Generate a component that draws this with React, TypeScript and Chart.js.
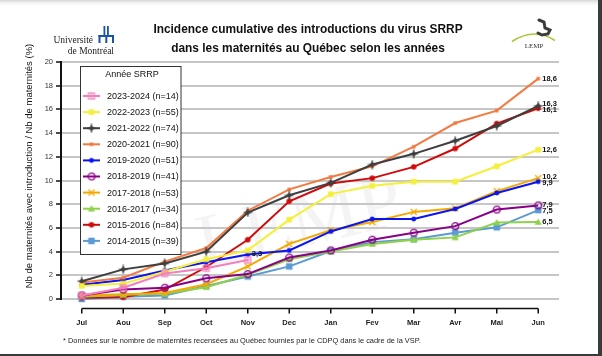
import React, { useEffect, useRef } from "react";
import { Chart, registerables } from "chart.js";

Chart.register(...registerables);

// ---------- data ----------
const months = ["Jul", "Aou", "Sep", "Oct", "Nov", "Dec", "Jan", "Fev", "Mar", "Avr", "Mai", "Jun"];

const seriesNames = [
  "2023-2024 (n=14)",
  "2022-2023 (n=55)",
  "2021-2022 (n=74)",
  "2020-2021 (n=90)",
  "2019-2020 (n=51)",
  "2018-2019 (n=41)",
  "2017-2018 (n=53)",
  "2016-2017 (n=34)",
  "2015-2016 (n=84)",
  "2014-2015 (n=39)",
];

const s2023_2024 = [0.3, 0.95, 2.15, 2.6, 3.3];
const s2022_2023 = [1.1, 1.3, 2.3, 3.35, 4.1, 6.7, 8.85, 9.55, 9.9, 9.9, 11.2, 12.6];
const s2021_2022 = [1.5, 2.5, 3.0, 4.0, 7.3, 8.75, 9.8, 11.35, 12.25, 13.35, 14.6, 16.3];
const s2020_2021 = [1.4, 1.8, 3.15, 4.3, 7.45, 9.25, 10.3, 11.2, 12.85, 14.85, 15.9, 18.6];
const s2019_2020 = [1.2, 1.6, 2.4, 3.1, 3.75, 4.1, 5.7, 6.75, 6.75, 7.6, 8.95, 9.9];
const s2018_2019 = [0.3, 0.8, 0.95, 1.75, 2.1, 3.5, 4.1, 5.0, 5.6, 6.15, 7.55, 7.9];
const s2017_2018 = [0.3, 0.4, 0.5, 1.25, 2.75, 4.65, 5.8, 6.5, 7.35, 7.65, 9.1, 10.2];
const s2016_2017 = [0.2, 0.35, 0.45, 1.0, 2.05, 3.35, 4.0, 4.65, 5.0, 5.2, 6.45, 6.5];
const s2015_2016 = [0.1, 0.15, 0.8, 2.7, 5.0, 8.25, 9.75, 10.2, 11.15, 12.7, 14.8, 16.1];
const s2014_2015 = [0.0, 0.2, 0.3, 1.1, 1.9, 2.75, 4.05, 4.8, 5.05, 5.6, 6.05, 7.5];

const seriesValues = [
  s2023_2024, s2022_2023, s2021_2022, s2020_2021, s2019_2020,
  s2018_2019, s2017_2018, s2016_2017, s2015_2016, s2014_2015,
];

const yMin = 0;
const yMax = 20;
const yStep = 2;

const titleLines = [
  "Incidence cumulative des introductions du virus SRRP",
  "dans les maternités au Québec selon les années",
];
const yTitle = "Nb de maternités avec introduction / Nb de maternités (%)";
const legendTitle = "Année SRRP";
const footnote = "* Données sur le nombre de maternités recensées au Québec fournies par le CDPQ dans le cadre de la VSP.";

// ---------- styles ----------
const seriesColors = [
  "#f57fbd", "#f4f03a", "#3f3f3f", "#f37a40", "#0a14f0",
  "#880088", "#f2a900", "#8fd14a", "#d00a0a", "#5b9bd5",
];
const seriesMarkers = [
  "rectCross", "square", "diamondCross", "smallSquare", "dot",
  "ring", "x", "triangle", "circle", "bigSquare",
];

const SANS = "'Liberation Sans', Arial, Helvetica, sans-serif";
const SERIF = "'Liberation Serif', 'Times New Roman', 'DejaVu Serif', serif";

function makeMarker(kind: string, color: string): HTMLCanvasElement {
  const size = 10;
  const c = document.createElement("canvas");
  c.width = size;
  c.height = size;
  const g = c.getContext("2d")!;
  const m = size / 2;
  g.fillStyle = color;
  g.strokeStyle = color;
  g.lineWidth = 1.2;
  switch (kind) {
    case "rectCross":
      g.strokeRect(m - 3, m - 3, 6, 6);
      g.beginPath();
      g.moveTo(m - 3, m);
      g.lineTo(m + 3, m);
      g.moveTo(m, m - 3);
      g.lineTo(m, m + 3);
      g.stroke();
      break;
    case "square":
      g.fillRect(m - 2.75, m - 2.75, 5.5, 5.5);
      break;
    case "diamondCross":
      g.beginPath();
      g.moveTo(m, m - 3);
      g.lineTo(m + 3, m);
      g.lineTo(m, m + 3);
      g.lineTo(m - 3, m);
      g.closePath();
      g.fill();
      g.beginPath();
      g.moveTo(m - 4.5, m);
      g.lineTo(m + 4.5, m);
      g.moveTo(m, m - 4.5);
      g.lineTo(m, m + 4.5);
      g.stroke();
      break;
    case "smallSquare":
      g.fillRect(m - 1.75, m - 1.75, 3.5, 3.5);
      break;
    case "dot":
      g.beginPath();
      g.arc(m, m, 2.4, 0, Math.PI * 2);
      g.fill();
      break;
    case "ring":
      g.lineWidth = 1.3;
      g.beginPath();
      g.arc(m, m, 3.4, 0, Math.PI * 2);
      g.stroke();
      break;
    case "x":
      g.lineWidth = 1.4;
      g.beginPath();
      g.moveTo(m - 3, m - 3);
      g.lineTo(m + 3, m + 3);
      g.moveTo(m + 3, m - 3);
      g.lineTo(m - 3, m + 3);
      g.stroke();
      break;
    case "triangle":
      g.beginPath();
      g.moveTo(m, m - 3.5);
      g.lineTo(m + 3.6, m + 2.8);
      g.lineTo(m - 3.6, m + 2.8);
      g.closePath();
      g.fill();
      break;
    case "circle":
      g.beginPath();
      g.arc(m, m, 2.8, 0, Math.PI * 2);
      g.fill();
      break;
    case "bigSquare":
    default:
      g.fillRect(m - 3.25, m - 3.25, 6.5, 6.5);
      break;
  }
  return c;
}

function fmt(v: number): string {
  return v.toFixed(1).replace(".", ",");
}

export default function App() {
  const ref = useRef<HTMLCanvasElement | null>(null);

  useEffect(() => {
    const canvas = ref.current;
    if (!canvas) return;
    const markers = seriesMarkers.map((k, i) => makeMarker(k, seriesColors[i]));

    const decor = {
      id: "decor",
      beforeDraw(chart: any) {
        const ctx = chart.ctx as CanvasRenderingContext2D;
        // faint watermark
        ctx.save();
        ctx.translate(300, 226);
        ctx.rotate(-0.22);
        ctx.font = `78px ${SERIF}`;
        ctx.fillStyle = "rgba(0,0,0,0.045)";
        ctx.textAlign = "center";
        ctx.textBaseline = "middle";
        ctx.fillText("LEMP", 0, 0);
        ctx.restore();
      },
      afterDraw(chart: any) {
        const ctx = chart.ctx as CanvasRenderingContext2D;
        const area = chart.chartArea;
        const xs = chart.scales.x;

        // ---- title ----
        ctx.save();
        ctx.fillStyle = "#111";
        ctx.font = `bold 11.9px ${SANS}`;
        ctx.textAlign = "center";
        ctx.textBaseline = "middle";
        ctx.fillText(titleLines[0], 308, 30);
        ctx.fillText(titleLines[1], 308, 49);
        ctx.restore();

        // ---- Université de Montréal logo ----
        ctx.save();
        ctx.fillStyle = "#222";
        ctx.font = `9.5px ${SERIF}`;
        ctx.textAlign = "right";
        ctx.textBaseline = "alphabetic";
        ctx.fillText("Université", 93, 43);
        ctx.fillText("de Montréal", 114, 54);
        ctx.fillStyle = "#1b52a4";
        ctx.fillRect(103.5, 26, 1.8, 10);
        ctx.fillRect(107, 26, 1.8, 10);
        ctx.fillRect(98.5, 35, 15.5, 2);
        ctx.fillRect(98.5, 35, 2, 8);
        ctx.fillRect(105.3, 35, 2, 8);
        ctx.fillRect(112, 35, 2, 8);
        ctx.restore();

        // ---- LEMP logo ----
        ctx.save();
        ctx.strokeStyle = "#a8c83a";
        ctx.lineWidth = 1.6;
        ctx.beginPath();
        ctx.moveTo(512, 41.5);
        ctx.quadraticCurveTo(534, 27, 555, 40.5);
        ctx.stroke();
        ctx.strokeStyle = "#3c3c3c";
        ctx.lineWidth = 3;
        ctx.lineCap = "round";
        ctx.beginPath();
        ctx.moveTo(539, 20);
        ctx.lineTo(544, 22);
        ctx.lineTo(545, 28);
        ctx.lineTo(550, 30);
        ctx.lineTo(548, 34);
        ctx.lineTo(542, 35);
        ctx.lineTo(538, 33);
        ctx.stroke();
        ctx.fillStyle = "#333";
        ctx.font = `7px ${SERIF}`;
        ctx.textAlign = "center";
        ctx.textBaseline = "alphabetic";
        ctx.fillText("LEMP", 534, 47.5);
        ctx.restore();

        // ---- y title ----
        ctx.save();
        ctx.translate(29, 166);
        ctx.rotate(-Math.PI / 2);
        ctx.fillStyle = "#111";
        ctx.font = `9.5px ${SANS}`;
        ctx.textAlign = "center";
        ctx.textBaseline = "middle";
        ctx.fillText(yTitle, 0, 0);
        ctx.restore();

        // ---- detached x axis line with ticks ----
        ctx.save();
        const axY = area.bottom + 9.5;
        const x0 = xs.getPixelForValue(0);
        const x1 = xs.getPixelForValue(months.length - 1);
        ctx.strokeStyle = "#111";
        ctx.lineWidth = 1.5;
        ctx.beginPath();
        ctx.moveTo(x0, axY);
        ctx.lineTo(x1, axY);
        for (let i = 0; i < months.length; i++) {
          const px = xs.getPixelForValue(i);
          ctx.moveTo(px, axY);
          ctx.lineTo(px, axY + 5);
        }
        ctx.stroke();
        ctx.restore();

        // ---- end-of-series value labels ----
        const labels: { x: number; y: number; t: string }[] = [];
        chart.data.datasets.forEach((ds: any, i: number) => {
          const meta = chart.getDatasetMeta(i);
          const last = ds.data.length - 1;
          const pt = meta.data[last];
          if (!pt) return;
          const raised = last < months.length - 1 ? 6 : 0;
          labels.push({ x: pt.x + 4, y: pt.y - raised, t: fmt(ds.data[last]) });
        });
        const endLabels = labels.filter((l) => l.x > area.right - 40).sort((a, b) => a.y - b.y);
        const minGap = 6.5;
        for (let pass = 0; pass < 6; pass++) {
          for (let k = 1; k < endLabels.length; k++) {
            const gap = endLabels[k].y - endLabels[k - 1].y;
            if (gap < minGap) {
              const d = (minGap - gap) / 2;
              endLabels[k].y += d;
              endLabels[k - 1].y -= d;
            }
          }
        }
        ctx.save();
        ctx.fillStyle = "#111";
        ctx.font = `bold 7.5px ${SANS}`;
        ctx.textAlign = "left";
        ctx.textBaseline = "middle";
        labels.forEach((l) => ctx.fillText(l.t, l.x, l.y));
        ctx.restore();

        // ---- legend box ----
        ctx.save();
        const lx = 80.5, ly = 66.5, lw = 100.5, lh = 188;
        ctx.fillStyle = "#fff";
        ctx.fillRect(lx, ly, lw, lh);
        ctx.strokeStyle = "#333";
        ctx.lineWidth = 1;
        ctx.strokeRect(lx, ly, lw, lh);
        ctx.fillStyle = "#111";
        ctx.font = `9px ${SANS}`;
        ctx.textAlign = "center";
        ctx.textBaseline = "middle";
        ctx.fillText(legendTitle, 132, 75);
        ctx.textAlign = "left";
        chart.data.datasets.forEach((ds: any, i: number) => {
          const ey = 96 + i * 16.1;
          ctx.strokeStyle = seriesColors[i];
          ctx.lineWidth = 2;
          ctx.beginPath();
          ctx.moveTo(83, ey);
          ctx.lineTo(100, ey);
          ctx.stroke();
          const mk = markers[i];
          ctx.drawImage(mk, 91.5 - mk.width / 2, ey - mk.height / 2);
          ctx.fillStyle = "#111";
          ctx.fillText(ds.label, 107, ey + 0.5);
        });
        ctx.restore();

        // ---- footnote ----
        ctx.save();
        ctx.fillStyle = "#222";
        ctx.font = `7.4px ${SANS}`;
        ctx.textAlign = "left";
        ctx.textBaseline = "middle";
        ctx.fillText(footnote, 63, 341);
        ctx.restore();
      },
    };

    const chart = new Chart(canvas, {
      type: "line",
      data: {
        labels: months,
        datasets: seriesValues.map((vals, i) => ({
          label: seriesNames[i],
          data: vals,
          borderColor: seriesColors[i],
          backgroundColor: seriesColors[i],
          borderWidth: 2,
          pointStyle: markers[i] as any,
          pointRadius: 4,
          pointHoverRadius: 4,
          tension: 0,
          fill: false,
          clip: false as any,
        })),
      },
      options: {
        responsive: false,
        animation: false,
        events: [],
        layout: { padding: { top: 62, right: 39, left: 0, bottom: 0 } },
        plugins: {
          legend: { display: false },
          tooltip: { enabled: false },
          title: { display: false },
        },
        scales: {
          x: {
            type: "category",
            offset: true,
            grid: { display: false, drawTicks: false },
            border: { display: false },
            ticks: {
              padding: 19,
              autoSkip: false,
              maxRotation: 0,
              color: "#222",
              font: { size: 7.5, weight: "bold", family: SANS },
            },
            afterFit: (s: any) => {
              s.height = 55;
            },
          },
          y: {
            min: yMin,
            max: yMax,
            ticks: {
              stepSize: yStep,
              padding: 3,
              color: "#333",
              font: { size: 7.5, family: SANS },
            },
            grid: {
              color: "#c6c6c6",
              lineWidth: 2,
              tickColor: "#111",
              tickLength: 5,
              tickWidth: 1.5,
            },
            border: { display: true, color: "#111", width: 2 },
            afterFit: (s: any) => {
              s.width = 61;
            },
          },
        },
      },
      plugins: [decor],
    } as any);

    return () => chart.destroy();
  }, []);

  return (
    <div
      style={{
        position: "fixed",
        left: 0,
        top: 0,
        width: 602,
        height: 356,
        background: "#3a3a3a",
        overflow: "hidden",
      }}
    >
      <div
        style={{
          position: "absolute",
          left: 0,
          top: 0,
          width: 598,
          height: 354,
          background: "linear-gradient(#d6d6d6 0px, #f4f4f4 3px, #ffffff 6px)",
        }}
      >
        <canvas ref={ref} width={598} height={354} style={{ display: "block" }} />
      </div>
    </div>
  );
}
